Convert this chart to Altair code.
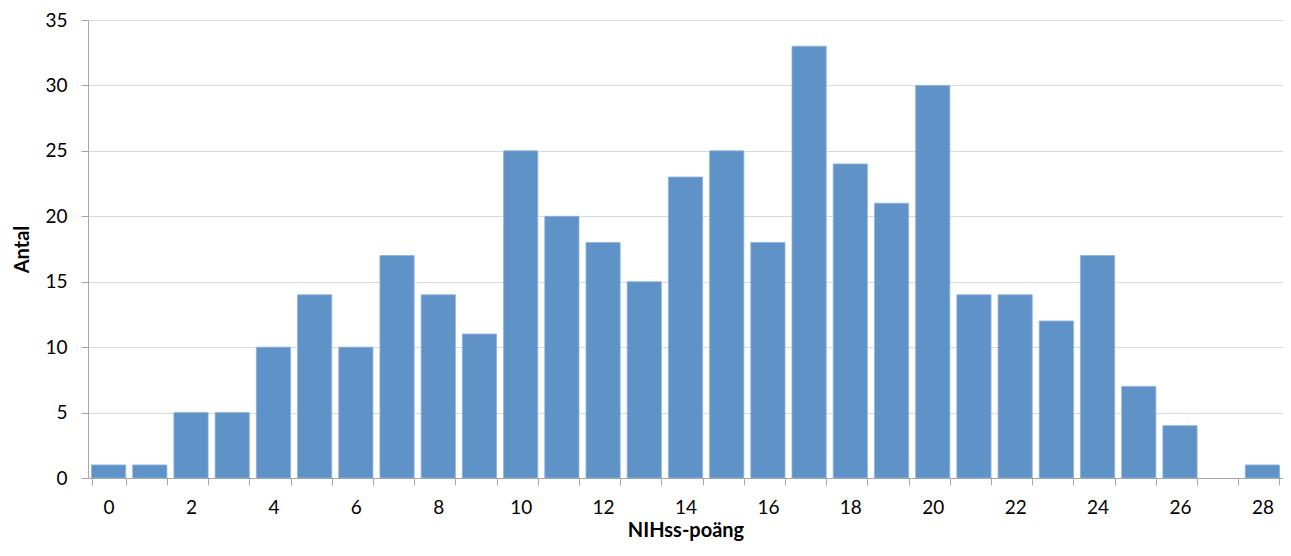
import altair as alt
import pandas as pd

scores = list(range(29))
counts = [1, 1, 5, 5, 10, 14, 10, 17, 14, 11, 25, 20, 18, 15, 23, 25, 18, 33, 24, 21, 30, 14, 14, 12, 17, 7, 4, 0, 1]

df = pd.DataFrame({"score": scores, "count": counts})

FONT = "Lato"

chart = alt.Chart(df).mark_bar(color="#5F93C8", stroke="#8CB2DA", strokeWidth=0.8).encode(
    x=alt.X("score:O", title="NIHss-poäng",
            scale=alt.Scale(paddingInner=0.17, paddingOuter=0.085),
            axis=alt.Axis(labelAngle=0, tickBand="extent",
                          labelExpr="datum.value % 2 == 0 ? datum.label : ''",
                          domainColor="#A6A6A6", tickColor="#A6A6A6", tickSize=7,
                          labelPadding=13, labelFontSize=19, labelColor="#000000",
                          titleFontSize=20, titleFontWeight="bold", titlePadding=3,
                          labelFont=FONT, titleFont=FONT, grid=False)),
    y=alt.Y("count:Q", title="Antal",
            scale=alt.Scale(domain=[0, 35]),
            axis=alt.Axis(values=[0, 5, 10, 15, 20, 25, 30, 35],
                          domainColor="#A6A6A6", tickColor="#A6A6A6", tickSize=7,
                          labelPadding=14, labelFontSize=19, labelColor="#000000",
                          gridColor="#D9D9D9", gridWidth=1.2,
                          titleFontSize=20, titleFontWeight="bold", titlePadding=12,
                          labelFont=FONT, titleFont=FONT)),
    strokeOpacity=alt.condition("datum.count > 0", alt.value(1), alt.value(0)),
).properties(
    width=1195, height=458,
    autosize=alt.AutoSizeParams(type="none"),
    padding={"left": 80, "top": 12, "right": 0, "bottom": 66},
).configure_view(stroke=None)

chart.save("out.html", embed_options={"renderer": "svg", "actions": False})
